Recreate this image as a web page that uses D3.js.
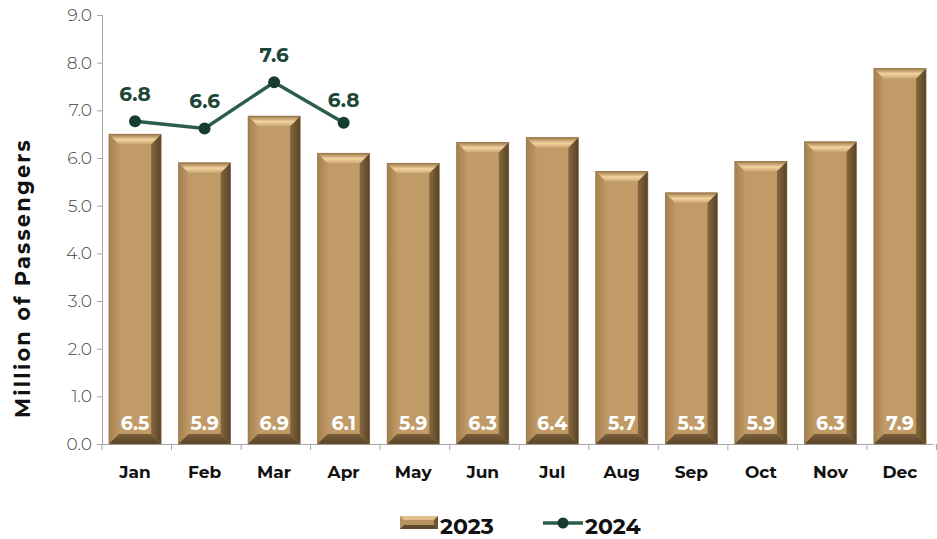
<!DOCTYPE html>
<html>
<head>
<meta charset="utf-8">
<script src="https://cdn.jsdelivr.net/npm/d3@7"></script>
<style>
  body { margin: 0; background: #fff; }
  svg { font-family: "Montserrat", "Open Sans", "Noto Sans", sans-serif; }
</style>
</head>
<body>
<div id="chart"></div>
<script>
// data
var months = ["Jan", "Feb", "Mar", "Apr", "May", "Jun", "Jul", "Aug", "Sep", "Oct", "Nov", "Dec"];
var values2023 = [6.5, 5.9, 6.88, 6.1, 5.89, 6.33, 6.43, 5.72, 5.27, 5.93, 6.34, 7.88];
var labels2023 = ["6.5", "5.9", "6.9", "6.1", "5.9", "6.3", "6.4", "5.7", "5.3", "5.9", "6.3", "7.9"];
var months2024 = ["Jan", "Feb", "Mar", "Apr"];
var values2024 = [6.77, 6.62, 7.59, 6.74];
var labels2024 = ["6.8", "6.6", "7.6", "6.8"];
var yTicks = [0, 1, 2, 3, 4, 5, 6, 7, 8, 9];

var W = 937, H = 539;
var margin = { left: 102, right: 4, top: 15, bottom: 95 };
var fontStack = '"Montserrat", "Open Sans", "Noto Sans", sans-serif';

var svg = d3.select("#chart").append("svg")
  .attr("width", W).attr("height", H);

var x = d3.scaleBand().domain(months)
  .range([margin.left, W - margin.right])
  .paddingInner(0.25).paddingOuter(0.1);
var y = d3.scaleLinear().domain([0, 9]).range([H - margin.bottom, margin.top]);

// gradients for the bevelled bars
var defs = svg.append("defs");
var gTop = defs.append("linearGradient").attr("id", "bevTop")
  .attr("x1", 0).attr("y1", 0).attr("x2", 0).attr("y2", 1);
gTop.append("stop").attr("offset", "0%").attr("stop-color", "#9a7648");
gTop.append("stop").attr("offset", "55%").attr("stop-color", "#f3d49e");
gTop.append("stop").attr("offset", "100%").attr("stop-color", "#cfa872");
var gRight = defs.append("linearGradient").attr("id", "bevRight")
  .attr("x1", 0).attr("y1", 0).attr("x2", 1).attr("y2", 0);
gRight.append("stop").attr("offset", "0%").attr("stop-color", "#86683f");
gRight.append("stop").attr("offset", "100%").attr("stop-color", "#584327");
var gLeft = defs.append("linearGradient").attr("id", "bevLeft")
  .attr("x1", 0).attr("y1", 0).attr("x2", 1).attr("y2", 0);
gLeft.append("stop").attr("offset", "0%").attr("stop-color", "#a5804f");
gLeft.append("stop").attr("offset", "100%").attr("stop-color", "#bd9763");
var gBot = defs.append("linearGradient").attr("id", "bevBot")
  .attr("x1", 0).attr("y1", 0).attr("x2", 0).attr("y2", 1);
gBot.append("stop").attr("offset", "0%").attr("stop-color", "#7a5f3b");
gBot.append("stop").attr("offset", "100%").attr("stop-color", "#574228");

// axes
var yAxis = svg.append("g")
  .attr("transform", "translate(" + margin.left + ",0)")
  .call(d3.axisLeft(y).tickValues(yTicks).tickFormat(d3.format(".1f")).tickSize(5).tickPadding(5))
  .attr("font-family", fontStack);
yAxis.select(".domain").attr("stroke", "#a6a6a6");
yAxis.selectAll(".tick line").attr("stroke", "#a6a6a6");
yAxis.selectAll("text").attr("font-size", 17).attr("fill", "#404040")
  .attr("font-weight", 300);

var xAxis = svg.append("g")
  .attr("transform", "translate(0," + y(0) + ")")
  .call(d3.axisBottom(x).tickSize(0).tickPadding(22))
  .attr("font-family", fontStack);
xAxis.select(".domain").attr("stroke", "#a6a6a6");
xAxis.selectAll("text").attr("font-size", 17).attr("font-weight", 700).attr("fill", "#111");
// category separators
var step = x.step();
var seps = d3.range(months.length + 1).map(function (i) {
  return x(months[0]) - x.paddingOuter() * step + i * step;
});
svg.append("g").selectAll("line").data(seps).enter().append("line")
  .attr("x1", function (d) { return d; }).attr("x2", function (d) { return d; })
  .attr("y1", y(0)).attr("y2", y(0) + 6)
  .attr("stroke", "#a6a6a6");

// bars
var bev = 10;
var bars = svg.append("g").selectAll("g.bar")
  .data(values2023).enter().append("g").attr("class", "bar")
  .attr("transform", function (d, i) { return "translate(" + x(months[i]) + "," + y(d) + ")"; });

bars.each(function (d, i) {
  var g = d3.select(this);
  var w = x.bandwidth(), h = y(0) - y(d);
  g.append("rect").attr("width", w).attr("height", h).attr("fill", "#c09a67");
  // left bevel
  g.append("polygon").attr("points", [[0, 0], [bev, bev], [bev, h - bev], [0, h]].join(" "))
    .attr("fill", "url(#bevLeft)");
  // right bevel
  g.append("polygon").attr("points", [[w, 0], [w, h], [w - bev, h - bev], [w - bev, bev]].join(" "))
    .attr("fill", "url(#bevRight)");
  // bottom bevel
  g.append("polygon").attr("points", [[0, h], [bev, h - bev], [w - bev, h - bev], [w, h]].join(" "))
    .attr("fill", "url(#bevBot)");
  // top bevel
  g.append("polygon").attr("points", [[0, 0], [w, 0], [w - bev, bev], [bev, bev]].join(" "))
    .attr("fill", "url(#bevTop)");
  g.append("rect").attr("width", w).attr("height", h).attr("fill", "none")
    .attr("stroke", "#8f7149").attr("stroke-width", 0.6);
});

svg.append("g").selectAll("text").data(values2023).enter().append("text")
  .attr("x", function (d, i) { return x(months[i]) + x.bandwidth() / 2; })
  .attr("y", y(0) - 14)
  .attr("text-anchor", "middle")
  .attr("font-size", 19).attr("font-weight", 700).attr("fill", "#fff")
  .text(function (d, i) { return labels2023[i]; });

// 2024 line
var line = d3.line()
  .x(function (d, i) { return x(months2024[i]) + x.bandwidth() / 2; })
  .y(function (d) { return y(d); });
svg.append("path").datum(values2024)
  .attr("d", line).attr("fill", "none")
  .attr("stroke", "#2b5e4a").attr("stroke-width", 3.5);
svg.append("g").selectAll("circle").data(values2024).enter().append("circle")
  .attr("cx", function (d, i) { return x(months2024[i]) + x.bandwidth() / 2; })
  .attr("cy", function (d) { return y(d); })
  .attr("r", 6).attr("fill", "#173d30");
svg.append("g").selectAll("text").data(values2024).enter().append("text")
  .attr("x", function (d, i) { return x(months2024[i]) + x.bandwidth() / 2; })
  .attr("y", function (d, i) { return y(d) - (i == 3 ? 16 : 20); })
  .attr("text-anchor", "middle")
  .attr("font-size", 20).attr("font-weight", 700).attr("fill", "#1d4636")
  .text(function (d, i) { return labels2024[i]; });

// y title
svg.append("text")
  .attr("transform", "translate(30,278) rotate(-90)")
  .attr("text-anchor", "middle")
  .attr("font-size", 21).attr("font-weight", 700).attr("fill", "#111")
  .attr("letter-spacing", 2.2)
  .text("Million of Passengers");

// legend
var leg = svg.append("g").attr("transform", "translate(400,526)");
var sw = leg.append("g").attr("transform", "translate(0,-10)");
sw.append("rect").attr("width", 38).attr("height", 13).attr("fill", "#b8935f");
sw.append("polygon").attr("points", "0,0 38,0 34,4 4,4").attr("fill", "#e2bf88");
sw.append("polygon").attr("points", "0,13 4,9 34,9 38,13").attr("fill", "#5e4a2e");
sw.append("polygon").attr("points", "38,0 38,13 34,9 34,4").attr("fill", "#6b5434");
leg.append("text").attr("x", 40).attr("y", 8)
  .attr("font-size", 22).attr("font-weight", 700).attr("fill", "#111").text("2023");
leg.append("line").attr("x1", 143).attr("x2", 183).attr("y1", -3).attr("y2", -3)
  .attr("stroke", "#2b5e4a").attr("stroke-width", 3.5);
leg.append("circle").attr("cx", 163).attr("cy", -3).attr("r", 5.5).attr("fill", "#173d30");
leg.append("text").attr("x", 185).attr("y", 8)
  .attr("font-size", 22).attr("font-weight", 700).attr("fill", "#111").text("2024");
</script>
</body>
</html>
